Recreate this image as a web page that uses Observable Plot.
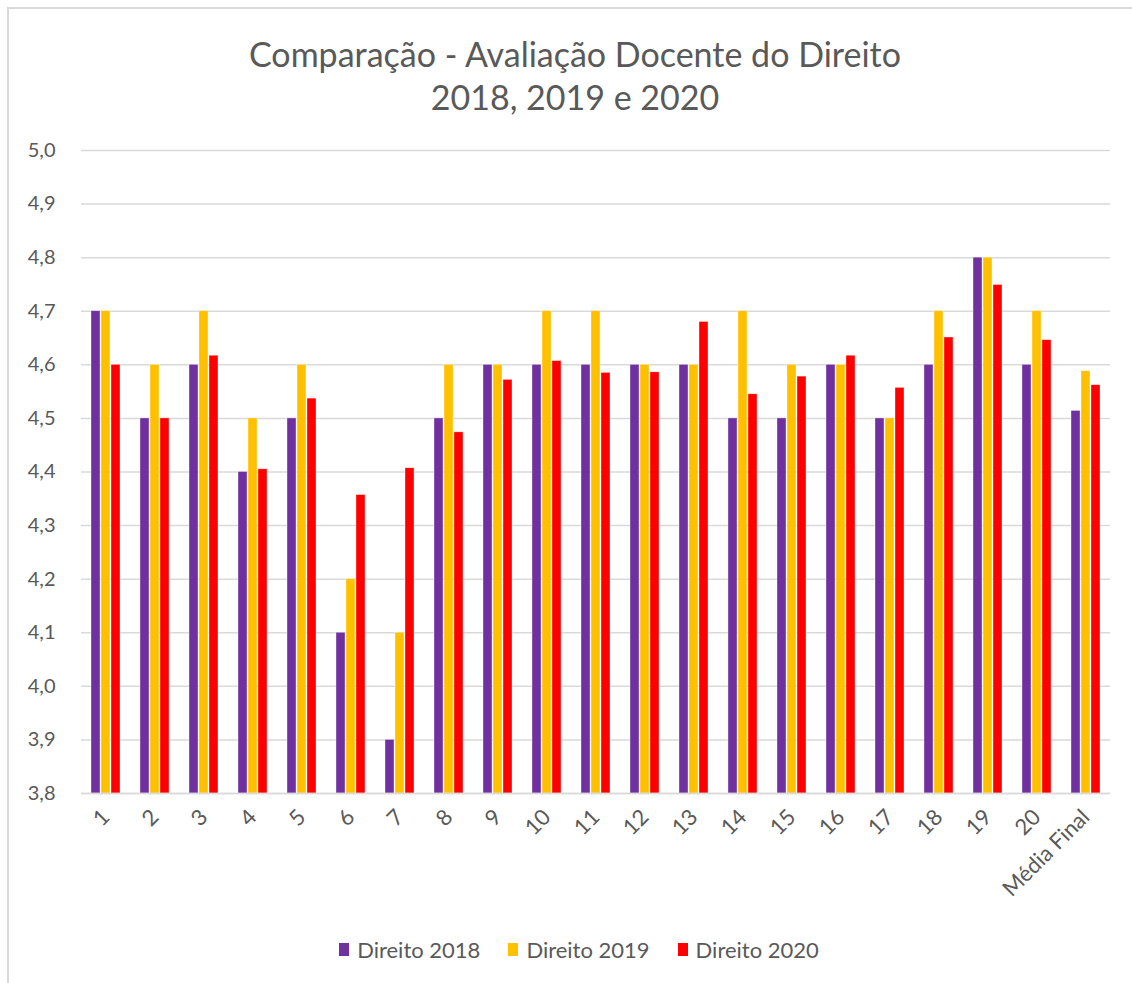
<!DOCTYPE html>
<html>
<head>
<meta charset="utf-8">
<script src="https://cdn.jsdelivr.net/npm/d3@7"></script>
<script src="https://cdn.jsdelivr.net/npm/@observablehq/plot@0.6"></script>
<style>
  html, body { margin: 0; padding: 0; background: #fff; }
  #frame {
    position: absolute; left: 7px; top: 7px; width: 1125px; height: 976px;
    border-left: 2px solid #d9d9d9; border-top: 2px solid #d9d9d9;
  }
  #title {
    position: absolute; left: 9px; top: 32px; width: 1132px; text-align: center;
    font-family: Lato, "Open Sans", sans-serif; font-size: 34px; line-height: 43px; color: #595959;
  }
  #chart { position: absolute; left: 0; top: 120px; }
  #legend {
    position: absolute; left: 13px; top: 936px; width: 1132px; display: flex; justify-content: center;
    font-family: Lato, "Open Sans", sans-serif; font-size: 22px; color: #595959;
  }
  .item { display: flex; align-items: center; margin: 0 14px; }
  .sw { width: 10px; height: 13px; margin-right: 8px; }
</style>
</head>
<body>
<div id="frame"></div>
<div id="title">Comparação - Avaliação Docente do Direito<br>2018, 2019 e 2020</div>
<div id="chart"></div>
<div id="legend"></div>
<script>
const categories = ["1","2","3","4","5","6","7","8","9","10","11","12","13","14","15","16","17","18","19","20","Média Final"];
const seriesNames = ["Direito 2018", "Direito 2019", "Direito 2020"];
const colors = ["#7030A0", "#FFC000", "#FF0000"];
const direito2018 = [4.7,4.5,4.6,4.4,4.5,4.1,3.9,4.5,4.6,4.6,4.6,4.6,4.6,4.5,4.5,4.6,4.5,4.6,4.8,4.6,4.514];
const direito2019 = [4.7,4.6,4.7,4.5,4.6,4.2,4.1,4.6,4.6,4.7,4.7,4.6,4.6,4.7,4.6,4.6,4.5,4.7,4.8,4.7,4.588];
const direito2020 = [4.6,4.5,4.617,4.405,4.537,4.357,4.407,4.474,4.572,4.607,4.585,4.586,4.68,4.545,4.578,4.617,4.557,4.651,4.749,4.646,4.562];
const yTicks = [3.8,3.9,4.0,4.1,4.2,4.3,4.4,4.5,4.6,4.7,4.8,4.9,5.0];

const allSeries = [direito2018, direito2019, direito2020];
const data = [];
categories.forEach((c, i) => {
  seriesNames.forEach((s, j) => data.push({category: c, series: s, value: allSeries[j][i]}));
});

const fmt = d => d.toFixed(1).replace(".", ",");
const font = "Lato, 'Open Sans', sans-serif";

const plot = Plot.plot({
  width: 1132,
  height: 800,
  marginLeft: 78,
  marginRight: 19,
  marginTop: 30,
  marginBottom: 127,
  style: { fontFamily: font, fontSize: "20px", color: "#595959", background: "transparent" },
  fx: { domain: categories, paddingInner: 0, paddingOuter: 0, label: null, tickRotate: -45, tickSize: 0, tickPadding: 20 },
  x: { domain: seriesNames, paddingInner: 0.14, paddingOuter: 0.81, axis: null },
  y: { domain: [3.8, 5.0], ticks: yTicks, tickFormat: fmt, label: null, tickSize: 0, tickPadding: 26 },
  color: { domain: seriesNames, range: colors },
  marks: [
    Plot.gridY(yTicks, { stroke: "#d9d9d9", strokeOpacity: 1, strokeWidth: 1.5 }),
    Plot.rectY(data, {
      fx: "category", x: "series", y1: () => 3.8, y2: "value", fill: "series",
      stroke: "white", strokeWidth: 0.6, strokeOpacity: 0.6
    }),
    Plot.ruleY([3.8], { stroke: "#d9d9d9", strokeWidth: 1.5 })
  ]
});
plot.querySelectorAll("text").forEach(t => t.setAttribute("fill", "#595959"));
plot.querySelectorAll('g[aria-label^="fx-axis"]').forEach(g => {
  g.setAttribute("font-size", "22");
  g.querySelectorAll("text").forEach(t => t.setAttribute("font-size", "22"));
});
document.getElementById("chart").appendChild(plot);

const legend = document.getElementById("legend");
seriesNames.forEach((s, i) => {
  const item = document.createElement("div");
  item.className = "item";
  item.innerHTML = `<span class="sw" style="background:${colors[i]}"></span><span>${s}</span>`;
  legend.appendChild(item);
});
</script>
</body>
</html>
